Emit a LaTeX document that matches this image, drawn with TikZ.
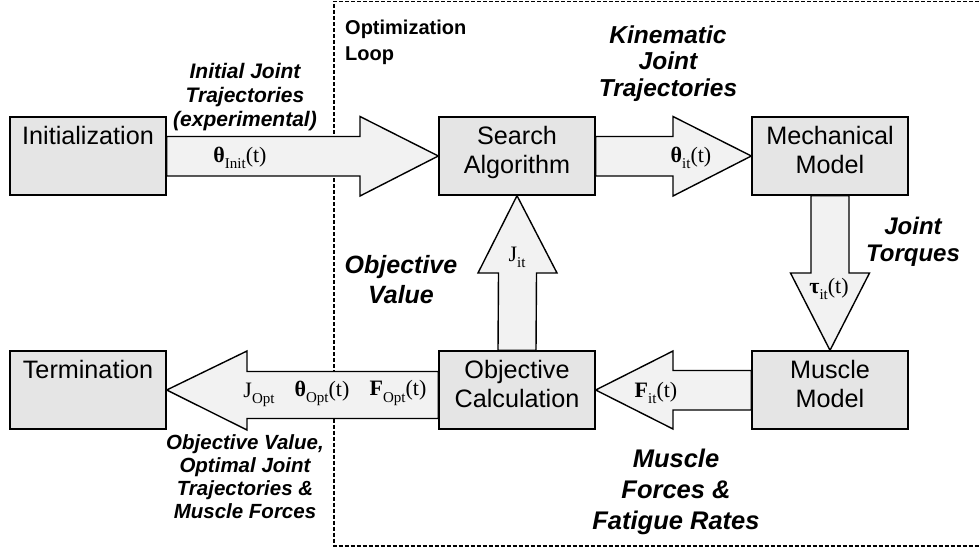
\documentclass[tikz,border=0pt]{standalone}
\usepackage{fontspec}
\setmainfont{Liberation Sans}
\newfontfamily\tnr{Liberation Serif}
\usetikzlibrary{calc}
\newcommand{\lowsub}[1]{\raisebox{-0.28em}{\fontsize{15}{15}\selectfont #1}}
\definecolor{boxgray}{HTML}{E5E5E5}
\definecolor{arrgray}{HTML}{F2F2F2}
\tikzset{
  box/.style={draw=black, line width=1.4pt, fill=boxgray, minimum width=156pt, minimum height=78pt, inner sep=0pt},
  boxtext/.style={anchor=north, align=center, font=\fontsize{25.2}{28.5}\selectfont, inner sep=0pt},
  blockarrow/.style={draw=black, line width=1.4pt, fill=arrgray, line join=miter},
  mlabel/.style={font=\tnr\fontsize{22}{24}\selectfont, inner sep=0pt},
  bilabel/.style={align=center, font=\bfseries\itshape, inner sep=0pt},
  loopline/.style={line width=1.4pt, dash pattern=on 4pt off 2pt}
}
\begin{document}
\begin{tikzpicture}[x=1pt,y=-1pt]
\useasboundingbox (0,0) rectangle (979,553);
% optimization loop frame
\coordinate (lt) at (979,1.5);
\coordinate (lc1) at (334,1.5);
\coordinate (lc2) at (334,546);
\coordinate (lb) at (979,546);
\draw[loopline] (lt) -- (lc1) -- (lc2) -- (lb);
\node[anchor=north west, align=left, font=\bfseries\fontsize{20}{26}\selectfont, inner sep=0pt] (looplab) at (345,19.5) {Optimization\\Loop};

% boxes
\node[box] (init) at (88,156) {};
\node[box] (search) at (517,156) {};
\node[box] (mech) at (830,156) {};
\node[box] (muscle) at (830,390) {};
\node[box] (obj) at (517,390) {};
\node[box] (term) at (88,390) {};

\node[boxtext] (initT) at ($(init.north)+(0,10)$) {Initialization};
\node[boxtext] (searchT) at ($(search.north)+(0,10)$) {Search\\Algorithm};
\node[boxtext] (mechT) at ($(mech.north)+(0,10)$) {Mechanical\\Model};
\node[boxtext] (muscleT) at ($(muscle.north)+(0,10)$) {Muscle\\Model};
\node[boxtext] (objT) at ($(obj.north)+(0,10)$) {Objective\\Calculation};
\node[boxtext] (termT) at ($(term.north)+(0,10)$) {Termination};

% block arrows
% init -> search
\draw[blockarrow] ($(init.east)+(0,-19.5)$) -- (360,136.5) -- (360,116.5) -- (search.west) -- (360,196) -- (360,176) -- ($(init.east)+(0,20)$) -- cycle;
% search -> mech
\draw[blockarrow] ($(search.east)+(0,-19.5)$) -- (673,136.5) -- (673,116.5) -- (mech.west) -- (673,196) -- (673,176) -- ($(search.east)+(0,20)$) -- cycle;
% mech -> muscle
\draw[blockarrow] ($(mech.south)+(-19,0)$) -- (811,273) -- (790.5,273) -- (muscle.north) -- (869.5,273) -- (849,273) -- ($(mech.south)+(19,0)$) -- cycle;
% muscle -> obj
\draw[blockarrow] ($(muscle.west)+(0,-19.5)$) -- (673,370.5) -- (673,351) -- (obj.east) -- (673,429) -- (673,410) -- ($(muscle.west)+(0,20)$) -- cycle;
% obj -> search
\draw[blockarrow] ($(obj.north)+(-19,0)$) -- (498.5,273) -- (478,273) -- (search.south) -- (557,273) -- (536.5,273) -- ($(obj.north)+(19,0)$) -- cycle;
% obj -> term
\draw[blockarrow] ($(obj.west)+(0,-18.5)$) -- (247,371.5) -- (247,351) -- (term.east) -- (247,430) -- (247,418.5) -- ($(obj.west)+(0,28.5)$) -- cycle;

% arrow contents
\node[mlabel] (thinit) at (240,158) {\textbf{θ}\lowsub{Init}(t)};
\node[mlabel] (thit) at (691,158) {\textbf{θ}\lowsub{it}(t)};
\node[mlabel] (tauit) at (829,289) {\textbf{τ}\lowsub{it}(t)};
\node[mlabel] (jit) at (517,257) {J\lowsub{it}};
\node[mlabel] (fit) at (656,393) {\textbf{F}\lowsub{it}(t)};
\node[mlabel] (jopt) at (259,395) {J\lowsub{Opt}};
\node[mlabel] (thopt) at (322,393) {\textbf{θ}\lowsub{Opt}(t)};
\node[mlabel] (fopt) at (398,393) {\textbf{F}\lowsub{Opt}(t)};

% italic labels
\node[bilabel, font=\bfseries\itshape\fontsize{21}{24}\selectfont] (lab1) at (245,97) {Initial Joint\\Trajectories\\(experimental)};
\node[bilabel, font=\bfseries\itshape\fontsize{24.5}{26.5}\selectfont] (lab2) at (668,63.5) {Kinematic\\Joint\\Trajectories};
\node[bilabel, font=\bfseries\itshape\fontsize{24}{27}\selectfont] (lab3) at (913,242) {Joint\\Torques};
\node[bilabel, font=\bfseries\itshape\fontsize{25}{30}\selectfont] (lab4) at (401,280) {Objective\\Value};
\node[bilabel, font=\bfseries\itshape\fontsize{25.5}{31}\selectfont] (lab5) at (676,492) {Muscle\\Forces \&\\Fatigue Rates};
\node[bilabel, font=\bfseries\itshape\fontsize{20.5}{23}\selectfont] (lab6) at (245,477) {Objective Value,\\Optimal Joint\\Trajectories \&\\Muscle Forces};
\end{tikzpicture}
\end{document}
